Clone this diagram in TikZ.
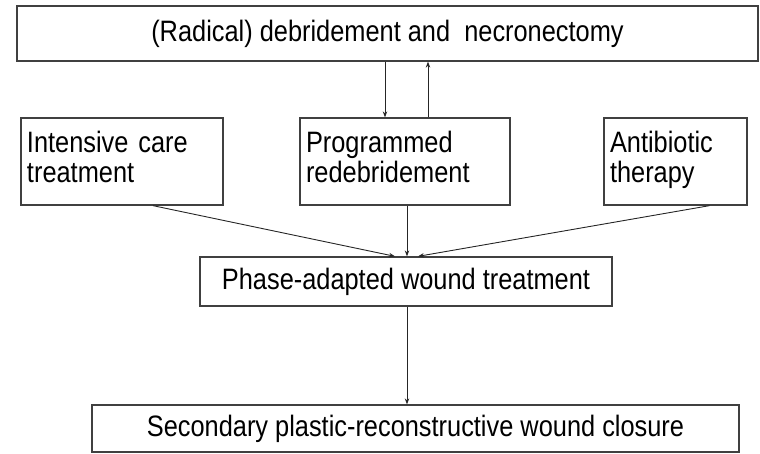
\documentclass[tikz,border=0pt]{standalone}
\usepackage{fontspec}
\setmainfont{Liberation Sans}[FakeStretch=0.86]
\usetikzlibrary{arrows.meta}

\begin{document}
\begin{tikzpicture}[x=1pt,y=-1pt,
  box/.style={draw=black!75, line width=1.3pt, inner sep=0pt,
    font=\fontsize{29.5}{30}\selectfont},
  sidebox/.style={box, align=left, text width=#1, minimum height=87pt},
  arr/.style={draw=black!85, line width=0.9pt, -{Stealth[length=6pt,width=4.5pt]}}]
  \useasboundingbox (0,0) rectangle (760,453);
  \node[box, minimum width=741pt, minimum height=55pt] (top) at (387.5,33.5)
    {(Radical) debridement and\ \ necronectomy};
  \node[sidebox=190pt, minimum width=202pt] (icu) at (122,161.5)
    {Intensive care\\treatment\strut};
  \node[sidebox=198pt, minimum width=210pt] (redeb) at (405,161.5)
    {Programmed\\redebridement\strut};
  \node[sidebox=131pt, minimum width=143pt] (abx) at (675.5,161.5)
    {Antibiotic\\therapy\strut};
  \node[box, minimum width=412pt, minimum height=49pt] (phase) at (406,281.5)
    {Phase-adapted wound treatment};
  \node[box, minimum width=647pt, minimum height=47pt] (closure) at (415.5,428.5)
    {Secondary plastic-reconstructive wound closure};
  \draw[arr] ([xshift=-20pt]redeb.north |- top.south) -- ([xshift=-20pt]redeb.north);
  \draw[arr] ([xshift=23pt]redeb.north) -- ([xshift=23pt]redeb.north |- top.south);
  \draw[arr] ([xshift=31pt]icu.south) -- ([xshift=-11pt]phase.north);
  \draw[arr] ([xshift=2pt]redeb.south) -- ([xshift=1pt]phase.north);
  \draw[arr] ([xshift=34pt]abx.south) -- ([xshift=12pt]phase.north);
  \draw[arr] ([xshift=1pt]phase.south) -- ([xshift=1pt]phase.south |- closure.north);
\end{tikzpicture}
\end{document}
